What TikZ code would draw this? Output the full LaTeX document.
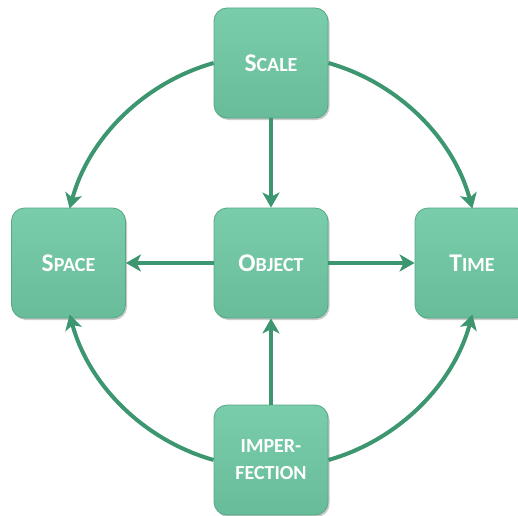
\documentclass[tikz,border=0pt]{standalone}
\usepackage{fontspec}
\setmainfont{Carlito}
\usetikzlibrary{arrows.meta,shadows}
\definecolor{boxtop}{RGB}{122,205,171}
\definecolor{boxbot}{RGB}{104,188,154}
\definecolor{boxedge}{RGB}{86,168,132}
\definecolor{linkc}{RGB}{60,150,112}
\newcommand\scx[2]{{\fontsize{25.5}{28}\selectfont #1}{\fontsize{20}{24}\selectfont #2}}
\newcommand\scy[1]{{\fontsize{20}{24}\selectfont #1}}
\tikzset{
  box/.style={rectangle, rounded corners=13pt, minimum width=114pt, minimum height=110pt,
    top color=boxtop, bottom color=boxbot, draw=boxedge, line width=0.8pt,
    text=white, font=\bfseries, align=center,
    drop shadow={shadow xshift=1.5pt, shadow yshift=-2pt, opacity=0.35, fill=black!60}},
  link/.style={draw=linkc, line width=4pt, -{Stealth[length=15pt,width=17pt,inset=4pt]}}
}
\begin{document}
\begin{tikzpicture}[x=1pt,y=1pt]
\useasboundingbox (0,0) rectangle (518,515);
\node[box] (scale) at (271,452) {\scx{S}{CALE}};
\node[box] (object) at (271,252) {\scx{O}{BJECT}};
\node[box] (space) at (68.5,252) {\scx{S}{PACE}};
\node[box] (time) at (472,252) {\scx{T}{IME}};
\node[box] (imperf) at (271,55) {\scy{IMPER-}\\[13pt]\scy{FECTION}};
\draw[link] (scale.south) -- (object.north);
\draw[link] (imperf.north) -- (object.south);
\draw[link] (object.west) -- (space.east);
\draw[link] (object.east) -- (time.west);
\draw[link] (scale.west) arc[start angle=105.9, end angle=164.7, radius=208.5];
\draw[link] (scale.east) arc[start angle=74.1, end angle=15.3, radius=208.5];
\draw[link] (imperf.west) arc[start angle=254.1, end angle=195.3, radius=208.5];
\draw[link] (imperf.east) arc[start angle=-74.1, end angle=-15.3, radius=208.5];
\end{tikzpicture}
\end{document}
